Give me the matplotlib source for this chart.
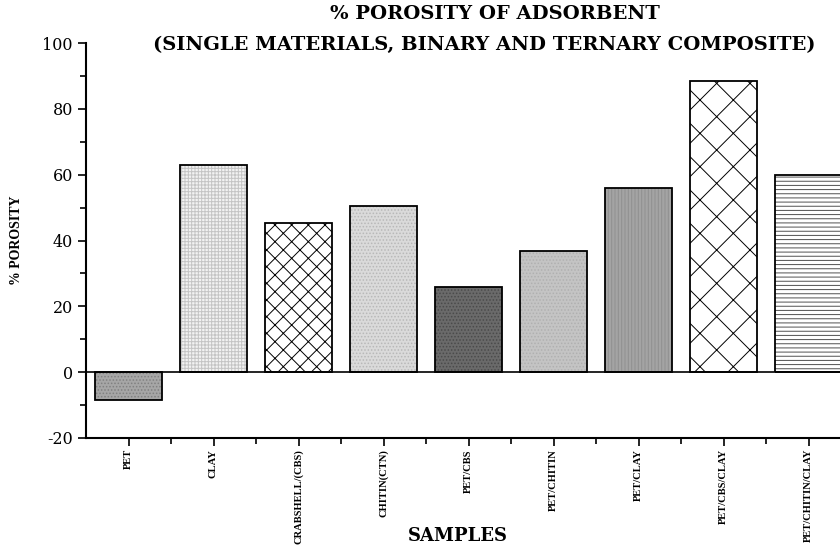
import matplotlib
matplotlib.use('Agg')
import matplotlib.pyplot as plt
import matplotlib.ticker as ticker
import numpy as np

samples = ['PET', 'CLAY', 'CRABSHELL/(CBS)', 'CHITIN(CTN)', 'PET/CBS',
           'PET/CHITIN', 'PET/CLAY', 'PET/CBS/CLAY', 'PET/CHITIN/CLAY']
porosity = [-8.5, 63.0, 45.4, 50.6, 26.0, 36.7, 56.0, 88.5, 60.0]

# fill colour, hatch and hatch colour per bar (grey dot textures approximated)
fills = ['#a6a6a6', '#f2f2f2', 'white', '#dadada', '#6a6a6a',
         '#c4c4c4', '#a4a4a4', 'white', 'white']
hatches = ['.....', '+++++', 'xx', '.....', '.....', '.....', '|||||', 'x', '----']
hatch_cols = ['#808080', '#c4c4c4', 'black', '#b8b8b8', '#4a4a4a',
              '#b0b0b0', '#909090', 'black', '#505050']

plt.rcParams['font.family'] = ['Liberation Serif', 'DejaVu Serif']
plt.rcParams['axes.unicode_minus'] = False
plt.rcParams['hatch.linewidth'] = 0.7

fig = plt.figure(figsize=(8.4, 5.5), dpi=100)
ax = fig.add_axes([86 / 840, 1 - 438 / 550, 765 / 840, (438 - 43) / 550])

x = np.arange(1, len(samples) + 1)
for xi, v, fc, h, hc in zip(x, porosity, fills, hatches, hatch_cols):
    # fill + coloured hatch, then a black outline on top
    ax.bar(xi, v, width=0.79, color=fc, edgecolor=hc, linewidth=0,
           hatch=h, zorder=2)
    ax.bar(xi, v, width=0.79, fill=False, edgecolor='black', linewidth=1.3,
           zorder=3)

ax.axhline(0, color='black', linewidth=1.2, zorder=4)

ax.set_xlim(0.5, 9.5)
ax.set_ylim(-20, 100)
ax.yaxis.set_major_locator(ticker.MultipleLocator(20))
ax.yaxis.set_minor_locator(ticker.MultipleLocator(10))
ax.set_xticks(x)
ax.xaxis.set_minor_locator(ticker.FixedLocator(x[:-1] + 0.5))
ax.set_xticklabels(samples, rotation=90, fontsize=7.6, fontweight='bold')
for lab in ax.get_yticklabels():
    lab.set_fontfamily('DejaVu Serif')
    lab.set_fontsize(11.5)

ax.tick_params(which='major', direction='out', length=6, width=1.2)
ax.tick_params(axis='x', which='major', pad=2)
ax.tick_params(which='minor', direction='out', length=4, width=1.2)

ax.spines['top'].set_visible(False)
ax.spines['right'].set_visible(False)
ax.spines['left'].set_linewidth(1.5)
ax.spines['bottom'].set_linewidth(1.5)

ax.set_ylabel('% POROSITY', fontsize=10, fontweight='bold', labelpad=14)
fig.text(458 / 840, 1 - 536 / 550, 'SAMPLES', ha='center', va='center',
         fontsize=13, fontweight='bold', family='DejaVu Serif')

fig.text(495 / 840, 1 - 14 / 550, '% POROSITY OF ADSORBENT', ha='center',
         va='center', fontsize=14, fontweight='bold', family='DejaVu Serif')
fig.text(153 / 840, 1 - 45 / 550,
         '(SINGLE MATERIALS, BINARY AND TERNARY COMPOSITE)', ha='left',
         va='center', fontsize=14, fontweight='bold', family='DejaVu Serif')

fig.savefig('out.png', dpi=100)
